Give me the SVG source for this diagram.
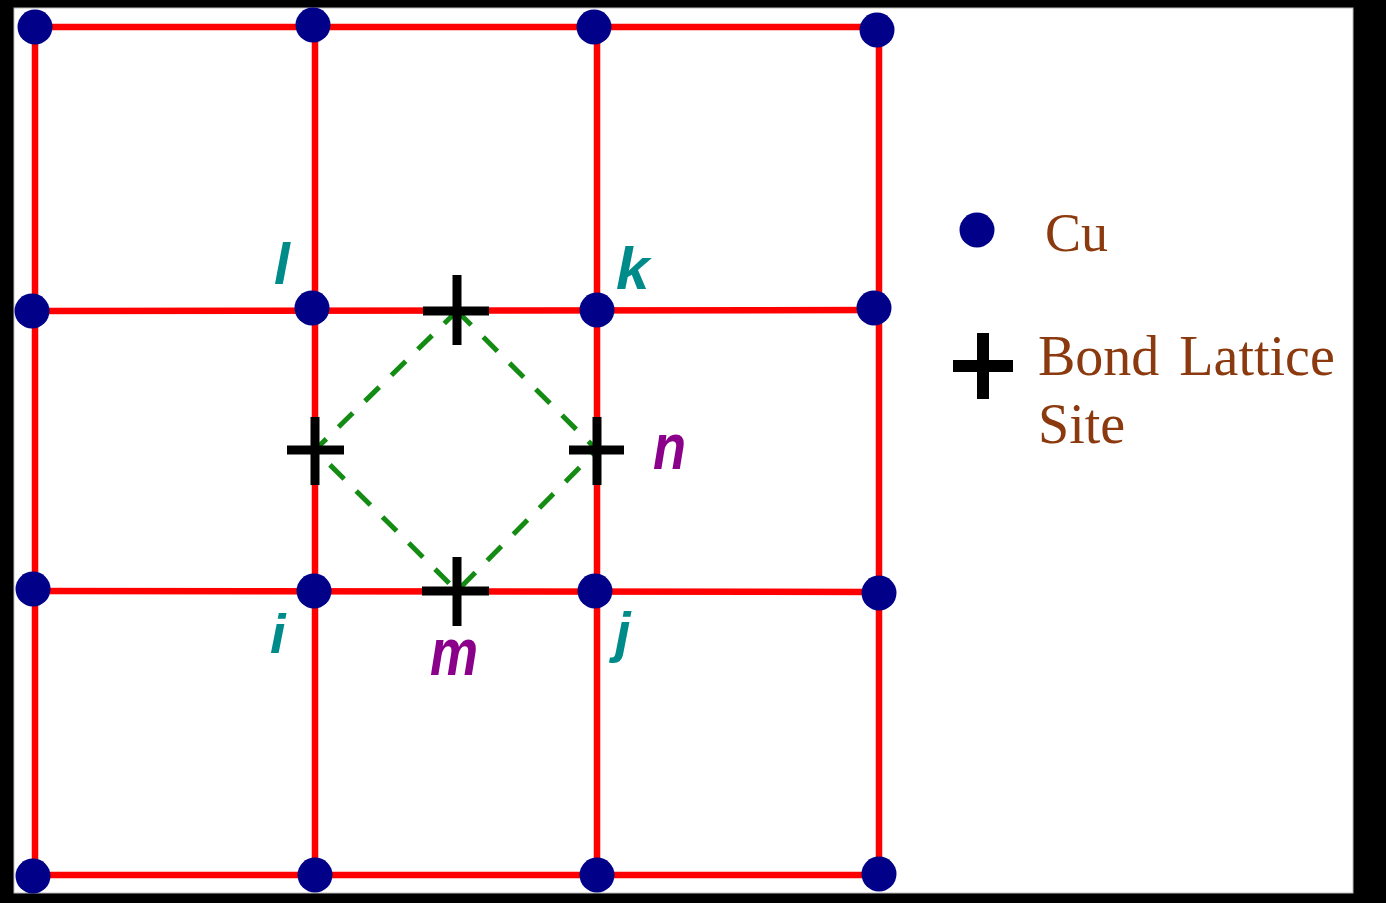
<svg xmlns="http://www.w3.org/2000/svg" width="1386" height="903" viewBox="0 0 1386 903">
<defs>
<style>
.grid{stroke:#ff0000;stroke-width:6.5;fill:none}
.dash{stroke:#148c14;stroke-width:5;fill:none;stroke-dasharray:20 17}
.cu{fill:#000088}
.cross{stroke:#000;stroke-width:9;fill:none}
.lbl{font-family:"Liberation Sans",Arial,sans-serif;font-weight:bold;font-style:italic}
.teal{fill:#008b8b}
.purple{fill:#8b008b}
.leg{font-family:"Liberation Serif","Times New Roman",serif;fill:#8b3a0f}
</style>
</defs>
<rect x="0" y="0" width="1386" height="903" fill="#000"/>
<rect x="14" y="8" width="1339" height="885" fill="#fff" stroke="#bbb" stroke-width="1"/>
<g id="connectors">
<line class="grid" x1="35" y1="27" x2="879" y2="27"/>
<line class="grid" x1="32" y1="311" x2="876" y2="310"/>
<line class="grid" x1="33" y1="591" x2="879" y2="592"/>
<line class="grid" x1="33" y1="875" x2="879" y2="875"/>
<line class="grid" x1="35" y1="27" x2="35" y2="875"/>
<line class="grid" x1="315" y1="25" x2="315" y2="875"/>
<line class="grid" x1="597" y1="27" x2="597" y2="875"/>
<line class="grid" x1="879" y1="30" x2="879" y2="875"/>
<path class="dash" d="M457 311 L597 450 L457 591 L315 450 Z"/>
</g>
<g id="cu-sites">
<circle class="cu" cx="35" cy="27" r="17.5"/>
<circle class="cu" cx="313" cy="25" r="17.5"/>
<circle class="cu" cx="594" cy="27" r="17.5"/>
<circle class="cu" cx="877" cy="30" r="17.5"/>
<circle class="cu" cx="32" cy="311" r="17.5"/>
<circle class="cu" cx="312" cy="308" r="17.5"/>
<circle class="cu" cx="597" cy="310" r="17.5"/>
<circle class="cu" cx="874" cy="308" r="17.5"/>
<circle class="cu" cx="33" cy="589" r="17.5"/>
<circle class="cu" cx="314" cy="591" r="17.5"/>
<circle class="cu" cx="595" cy="591" r="17.5"/>
<circle class="cu" cx="879" cy="593" r="17.5"/>
<circle class="cu" cx="33" cy="876" r="17.5"/>
<circle class="cu" cx="315" cy="875" r="17.5"/>
<circle class="cu" cx="597" cy="875" r="17.5"/>
<circle class="cu" cx="879" cy="874" r="17.5"/>
</g>
<g id="bond-top"><path class="cross" d="M423 311 H489 M457 275 V345"/></g>
<g id="bond-left"><path class="cross" d="M287 450 H344 M315 417 V485"/></g>
<g id="bond-n"><path class="cross" d="M569 450 H624 M597 417 V485"/></g>
<g id="bond-m"><path class="cross" d="M422 591 H489 M457 557 V626"/></g>
<g id="labels">
<text id="label-l" class="lbl teal" x="274" y="284" font-size="57">l</text>
<text id="label-k" class="lbl teal" x="616" y="289" font-size="60">k</text>
<text id="label-i" class="lbl teal" x="270" y="653" font-size="56">i</text>
<text id="label-j" class="lbl teal" x="615" y="651" font-size="56">j</text>
<text id="label-n" class="lbl purple" x="653" y="469" font-size="54" transform="translate(653 469) scale(1 1.2) translate(-653 -469)">n</text>
<text id="label-m" class="lbl purple" x="430" y="675" font-size="54" transform="translate(430 675) scale(1 1.25) translate(-430 -675)">m</text>
</g>
<g id="legend">
<circle class="cu" cx="977" cy="230" r="17.5"/>
<text class="leg" x="1045" y="251" style="font-size:54px">Cu</text>
<path stroke="#000" stroke-width="12" fill="none" d="M953 366 H1013 M983 333 V399"/>
<text class="leg" x="1038" y="375" style="font-size:56px;word-spacing:6px">Bond Lattice</text>
<text class="leg" x="1038" y="443" style="font-size:56px">Site</text>
</g>
</svg>
